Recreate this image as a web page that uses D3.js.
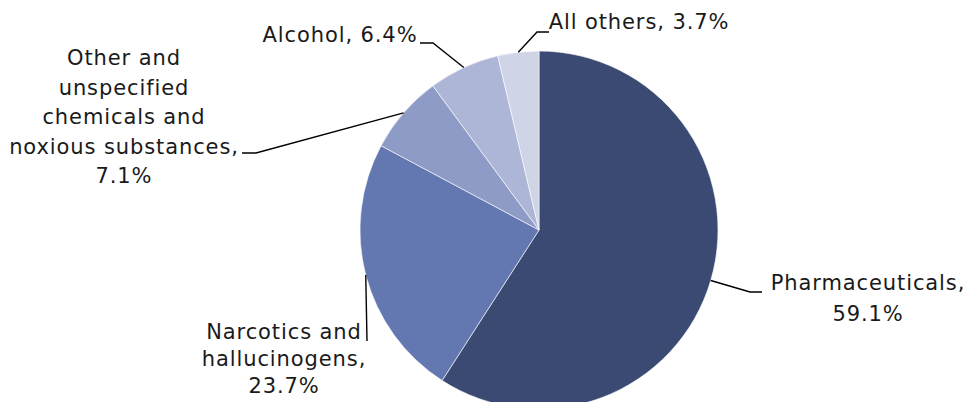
<!DOCTYPE html>
<html>
<head>
<meta charset="utf-8">
<script src="https://cdn.jsdelivr.net/npm/d3@7"></script>
<style>
  html, body { margin: 0; padding: 0; background: #fff; }
  svg { display: block; }
  .lbl { font-family: "DejaVu Sans", sans-serif; font-size: 21px; fill: #1a1a1a; letter-spacing: 0.9px; }
</style>
</head>
<body>
<svg id="chart" width="971" height="402"></svg>
<script>
//////////////////// DATA ////////////////////
const categories = [
    "Pharmaceuticals",
    "Narcotics and hallucinogens",
    "Other and unspecified chemicals and noxious substances",
    "Alcohol",
    "All others"
];
const shares = [59.1, 23.7, 7.1, 6.4, 3.7];
const colors = ["#3b4a72", "#6378b0", "#8d9bc6", "#adb6d6", "#cfd4e7"];

//////////////////// LAYOUT ////////////////////
const W = 971, H = 402;
const center = { x: 539, y: 230 };
const radius = 179;

// label placement: words per line, text centre, first line y, line height, leader elbow points
const labelLayout = [
    { words: [1, 1], x: 868, y: 283, lh: 31, leader: [[750, 292], [762, 292]] },
    { words: [2, 1, 1], x: 284, y: 332, lh: 27, leader: [[367, 341]] },
    { words: [2, 1, 2, 2, 1], x: 124, y: 58, lh: 29.5, leader: [[256, 153], [242, 153]] },
    { words: [3], x: 340, y: 35, lh: 28, leader: [[433, 43], [420, 43]] },
    { words: [3], x: 639, y: 22, lh: 28, leader: [[537, 32], [549, 32]] }
];

const svg = d3.select("#chart");

//////////////////// PIE ////////////////////
const pie = d3.pie().sort(null).value(d => d.value);
const arc = d3.arc().innerRadius(0).outerRadius(radius);

const data = categories.map((c, i) => ({ name: c, value: shares[i], i: i }));
const arcs = pie(data);

const g = svg.append("g").attr("transform", `translate(${center.x},${center.y})`);

g.selectAll("path.slice")
    .data(arcs)
    .enter()
    .append("path")
    .attr("class", "slice")
    .attr("d", arc)
    .attr("fill", d => colors[d.data.i])
    .attr("stroke", "#ffffff")
    .attr("stroke-width", 0.6);

//////////////////// LEADER LINES ////////////////////
const line = d3.line();
arcs.forEach(d => {
    const a = (d.startAngle + d.endAngle) / 2;
    const start = [center.x + radius * Math.sin(a), center.y - radius * Math.cos(a)];
    const pts = [start].concat(labelLayout[d.data.i].leader);
    svg.append("path")
        .attr("d", line(pts))
        .attr("fill", "none")
        .attr("stroke", "#000")
        .attr("stroke-width", 1.4);
});

//////////////////// LABELS ////////////////////
arcs.forEach(d => {
    const lay = labelLayout[d.data.i];
    const words = `${d.data.name}, ${d3.format(".1f")(d.data.value)}%`.split(" ");
    const lines = [];
    let k = 0;
    lay.words.forEach(n => {
        lines.push(words.slice(k, k + n).join(" "));
        k += n;
    });
    const t = svg.append("text")
        .attr("class", "lbl")
        .attr("text-anchor", "middle");
    lines.forEach((s, j) => {
        t.append("tspan")
            .attr("x", lay.x)
            .attr("y", lay.y + j * lay.lh)
            .attr("dominant-baseline", "central")
            .text(s);
    });
});
</script>
</body>
</html>
